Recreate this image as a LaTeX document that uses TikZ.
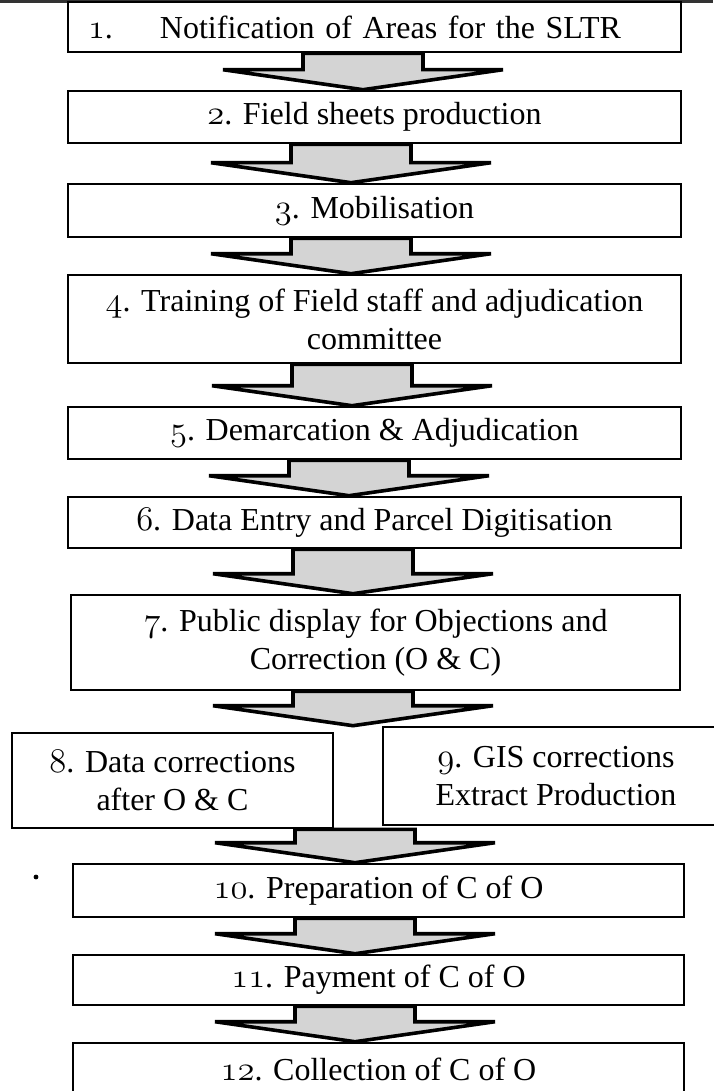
\documentclass[tikz,border=0pt]{standalone}
\usepackage{fontspec}
\setmainfont{Liberation Serif}
\usepackage{tikz}
\usetikzlibrary{calc}
% old-style figures for the step numbers
\newcommand{\osn}[1]{{\fontencoding{OML}\fontfamily{lmm}\fontseries{b}\fontshape{it}\selectfont #1}}
% wide block arrow between two boxes, #3 = x of its axis
\newcommand{\flowarrow}[3]{%
  \filldraw[blk] let \p1=(#1.south), \p2=(#2.north), \p3=(#3,0) in
    (\x3-30pt,\y1) -- (\x3-30pt,\y2+10pt) -- (\x3-70pt,\y2+10pt) -- (\x3,\y2)
    -- (\x3+70pt,\y2+10pt) -- (\x3+30pt,\y2+10pt) -- (\x3+30pt,\y1) -- cycle;}

\begin{document}
\begin{tikzpicture}[x=0.5pt, y=-0.5pt, font=\fontsize{16}{19}\selectfont,
  stepbox/.style={draw, line width=1.3pt, inner sep=0pt, align=center},
  wide/.style={stepbox, minimum width=306.5pt},
  blk/.style={draw=black, fill=black!17, line width=1.8pt, line join=miter}]
\useasboundingbox (0,0) rectangle (713,1091);
\fill[black!80] (0,0) rectangle (713,3);
\fill (36,877) circle[radius=1.2pt];

\node[stepbox, inner xsep=10pt, text width=286.5pt, align=left, minimum height=25pt] (s1) at (374.5,27)
  {\makebox[36pt][l]{\osn{1}.}Notification of Areas for the SLTR};
\node[wide, minimum height=26pt]   (s2) at (374.5,117)   {\osn{2}. Field sheets production};
\node[wide, minimum height=26.5pt] (s3) at (374.5,210.5) {\osn{3}. Mobilisation};
\node[wide, minimum height=44pt]   (s4) at (374.5,319)   {\osn{4}. Training of Field staff and adjudication\\committee};
\node[wide, minimum height=26pt]   (s5) at (374.5,433)   {\osn{5}. Demarcation \& Adjudication};
\node[wide, minimum height=25.5pt] (s6) at (374.5,522.5) {\osn{6}. Data Entry and Parcel Digitisation};
\node[stepbox, minimum width=304.5pt, minimum height=47.5pt] (s7) at (375.5,642.5)
  {\osn{7}. Public display for Objections and\\Correction (O \& C)};
\node[stepbox, minimum width=160.5pt, minimum height=47.5pt] (s8) at (172.5,780.5)
  {\osn{8}. Data corrections\\after O \& C};
\node[stepbox, minimum width=173pt, minimum height=49pt] (s9) at (556,776)
  {\osn{9}. GIS corrections\\Extract Production};
\node[stepbox, minimum width=305.5pt, minimum height=26.5pt] (s10) at (378.5,890.5) {\osn{10}. Preparation of C of O};
\node[stepbox, minimum width=305.5pt, minimum height=25pt]   (s11) at (378.5,980)   {\osn{11}. Payment of C of O};
\node[stepbox, minimum width=305.5pt, minimum height=26pt]   (s12) at (378.5,1069)  {\osn{12}. Collection of C of O};

\flowarrow{s1}{s2}{363}
\flowarrow{s2}{s3}{351}
\flowarrow{s3}{s4}{351}
\flowarrow{s4}{s5}{352}
\flowarrow{s5}{s6}{349}
\flowarrow{s6}{s7}{353}
\flowarrow{s7}{s9}{353}
\flowarrow{s8}{s10}{355}
\flowarrow{s10}{s11}{355}
\flowarrow{s11}{s12}{355}
\end{tikzpicture}
\end{document}
